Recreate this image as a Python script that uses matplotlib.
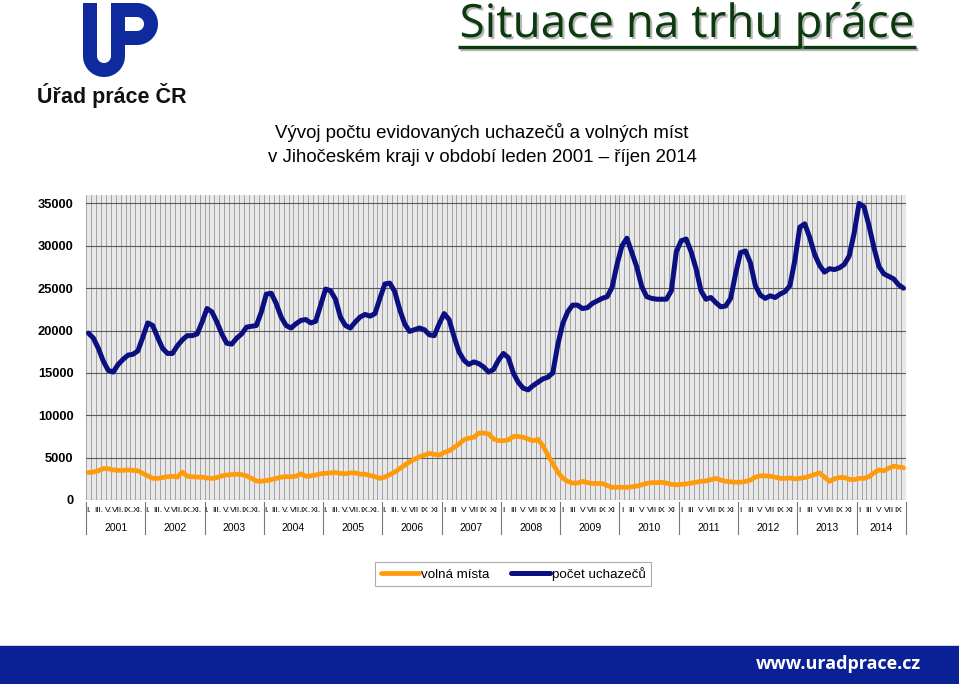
import matplotlib
matplotlib.use('Agg')
import matplotlib.pyplot as plt
import matplotlib.transforms as mtransforms
import matplotlib.patheffects as pe
from matplotlib.patches import Rectangle
from matplotlib.lines import Line2D
import numpy as np

# --- data ---
years = ['2001', '2002', '2003', '2004', '2005', '2006', '2007',
         '2008', '2009', '2010', '2011', '2012', '2013', '2014']

# pocet uchazecu, leden 2001 - rijen 2014
uchazeci = [
    19700, 19100, 17900, 16400, 15300, 15100, 16000, 16600, 17100, 17200, 17600, 19200,
    20900, 20600, 19200, 17900, 17300, 17300, 18200, 18900, 19400, 19400, 19600, 21000,
    22600, 22200, 21000, 19600, 18500, 18400, 19100, 19600, 20400, 20500, 20600, 22200,
    24300, 24400, 23200, 21600, 20600, 20300, 20800, 21200, 21300, 20900, 21100, 23000,
    24900, 24700, 23700, 21600, 20600, 20300, 21000, 21600, 21900, 21700, 22000, 23800,
    25500, 25600, 24600, 22500, 20800, 19900, 20100, 20300, 20100, 19500, 19400, 20800,
    22000, 21300, 19300, 17500, 16500, 16000, 16300, 16100, 15700, 15100, 15400, 16500,
    17300, 16800, 15000, 13900, 13200, 13000, 13500, 13900, 14300, 14500, 15000, 18300,
    20800, 22200, 23000, 23000, 22600, 22700, 23200, 23500, 23800, 24000, 25100, 27800,
    30000, 30900, 29200, 27500, 25200, 24000, 23800, 23700, 23700, 23700, 24700, 29300,
    30600, 30800, 29300, 27300, 24700, 23700, 23900, 23300, 22800, 22900, 23800, 26700,
    29200, 29400, 28000, 25300, 24200, 23800, 24100, 23900, 24300, 24600, 25300, 28300,
    32200, 32600, 31000, 29000, 27700, 26900, 27300, 27200, 27400, 27800, 28800, 31500,
    35000, 34600, 32400, 29800, 27600, 26700, 26400, 26100, 25400, 25000,
]

# volna mista
volna_mista = [
    3250, 3300, 3450, 3700, 3700, 3550, 3500, 3500, 3550, 3500, 3450, 3150,
    2850, 2550, 2550, 2650, 2750, 2800, 2700, 3300, 2800, 2750, 2700, 2700,
    2600, 2550, 2650, 2850, 2950, 3000, 3050, 3000, 2850, 2550, 2250, 2200,
    2300, 2400, 2550, 2700, 2750, 2750, 2800, 3100, 2800, 2850, 2950, 3100,
    3150, 3200, 3250, 3150, 3100, 3200, 3200, 3050, 3050, 2900, 2750, 2550,
    2700, 3000, 3300, 3700, 4100, 4500, 4800, 5100, 5300, 5500, 5400, 5300,
    5600, 5800, 6200, 6600, 7100, 7300, 7400, 7900, 7900, 7800, 7200, 7000,
    7000, 7100, 7500, 7500, 7400, 7200, 7000, 7150, 6400, 5300, 4300, 3300,
    2600, 2200, 2000, 2000, 2200, 2050, 1950, 1950, 1950, 1700, 1500, 1500,
    1500, 1500, 1550, 1650, 1800, 1950, 2050, 2050, 2100, 2000, 1850, 1800,
    1850, 1900, 2000, 2100, 2200, 2250, 2400, 2550, 2350, 2200, 2150, 2100,
    2100, 2200, 2350, 2700, 2850, 2850, 2800, 2700, 2550, 2550, 2600, 2500,
    2550, 2650, 2800, 3000, 3200, 2700, 2200, 2500, 2650, 2650, 2450, 2400,
    2550, 2550, 2750, 3200, 3550, 3450, 3750, 4000, 3900, 3800,
]

# month labels (every second month), older years use dots
mesice_s_teckou = ['I.', '', 'III.', '', 'V.', '', 'VII.', '', 'IX.', '', 'XI.', '']
mesice_2006 = ['I.', '', 'III.', '', 'V.', '', 'VII', '', 'IX', '', 'XI', '']
mesice = ['I', '', 'III', '', 'V', '', 'VII', '', 'IX', '', 'XI', '']

y_ticks = [0, 5000, 10000, 15000, 20000, 25000, 30000, 35000]

W, H = 959, 684
fig = plt.figure(figsize=(W / 100, H / 100), dpi=100)
fig.patch.set_facecolor('white')

# background layer in pixel coordinates (for logo, titles, footer)
bg = fig.add_axes([0, 0, 1, 1], zorder=0)
bg.set_xlim(0, W)
bg.set_ylim(H, 0)
bg.axis('off')

# --- main chart ---
px_l, px_r, px_t, px_b = 86, 906, 195, 500
ax = fig.add_axes([px_l / W, 1 - px_b / H, (px_r - px_l) / W, (px_b - px_t) / H], zorder=2)
ax.set_facecolor('#e8e8e8')

n = len(uchazeci)
x = np.arange(n)
ax.plot(x, volna_mista, color='#ff9a0a', lw=3.4, solid_joinstyle='round',
        solid_capstyle='round', label='volná místa', zorder=4)
ax.plot(x, uchazeci, color='#0b0f80', lw=3.6, solid_joinstyle='round',
        solid_capstyle='round', label='počet uchazečů', zorder=5)

ax.set_xlim(-0.5, n - 0.5)
ax.set_ylim(0, 36000)
ax.set_yticks(y_ticks)
ax.set_yticklabels([str(v) for v in y_ticks], fontsize=9.3, fontweight='bold',
                   family='Liberation Sans')
ax.tick_params(axis='y', length=0, pad=9)
ax.set_xticks(np.arange(-0.5, n, 1.0), minor=True)
ax.set_xticks([])
ax.tick_params(axis='x', which='both', length=0, labelbottom=False)
ax.grid(True, axis='x', which='minor', color='#909090', lw=0.55)
ax.grid(True, axis='y', which='major', color='#5a5a5a', lw=0.8)
ax.set_axisbelow(True)
for s in ax.spines.values():
    s.set_visible(False)

# two-level category axis: months + years
trans = mtransforms.blended_transform_factory(ax.transData, ax.transAxes)
for k, yr in enumerate(years):
    if int(yr) <= 2005:
        labels = mesice_s_teckou
    elif yr == '2006':
        labels = mesice_2006
    else:
        labels = mesice
    for m, lab in enumerate(labels):
        i = k * 12 + m
        if lab and i < n:
            ax.text(i, -0.034, lab, transform=trans, ha='center', va='center',
                    fontsize=6.0, family='Liberation Sans', clip_on=False)
    first = k * 12
    last = min(k * 12 + 11, n - 1)
    ax.text((first + last) / 2, -0.092, yr, transform=trans, ha='center', va='center',
            fontsize=7.5, family='Liberation Sans', clip_on=False)
    ax.add_line(Line2D([first - 0.5, first - 0.5], [-0.008, -0.112], transform=trans,
                       color='#777777', lw=0.8, clip_on=False))
ax.add_line(Line2D([n - 0.5, n - 0.5], [-0.008, -0.112], transform=trans,
                   color='#777777', lw=0.8, clip_on=False))

# legend
leg = fig.legend(loc='center', bbox_to_anchor=(513 / W, 1 - 574 / H), ncol=2,
                 frameon=True, fancybox=False, edgecolor='#999999',
                 handlelength=2.9, handletextpad=0.15, columnspacing=1.6,
                 borderpad=0.4, prop={'family': 'Liberation Sans', 'size': 9.6})
leg.get_frame().set_linewidth(0.8)

# --- titles ---
bg.text(482, 133, 'Vývoj počtu evidovaných uchazečů a volných míst', ha='center', va='center',
        fontsize=13.4, family='Liberation Sans')
bg.text(482, 157, 'v Jihočeském kraji v období leden 2001 – říjen 2014', ha='center', va='center',
        fontsize=13.4, family='Liberation Sans')

green = '#0c3a0e'
shadow = [pe.withSimplePatchShadow(offset=(1.5, -1.5), shadow_rgbFace='#888888', alpha=0.6)]
bg.text(687, 37, 'Situace na trhu práce', ha='center', va='baseline', fontsize=33,
        family='Open Sans', color=green, path_effects=shadow)
bg.plot([458, 916], [47, 47], color=green, lw=2.4, solid_capstyle='butt',
        path_effects=[pe.SimpleLineShadow(offset=(1.2, -1.2), shadow_color='#888888', alpha=0.6),
                      pe.Normal()])

# --- logo ---
logo = '#0f2a9c'
lw_logo = 14 * 0.72
t = np.linspace(np.pi, 0, 40)
ux = np.concatenate([[90], 104 + 14 * np.cos(t), [118]])
uy = np.concatenate([[3], 56 + 14 * np.sin(t), [3]])
bg.plot(ux, uy, color=logo, lw=lw_logo, solid_capstyle='butt', solid_joinstyle='round')
t2 = np.linspace(-np.pi / 2, np.pi / 2, 40)
px_ = np.concatenate([[111], 137 + 14 * np.cos(t2), [118]])
py_ = np.concatenate([[10], 24 + 14 * np.sin(t2), [38]])
bg.plot(px_, py_, color=logo, lw=lw_logo, solid_capstyle='butt', solid_joinstyle='round')
bg.text(112, 96, 'Úřad práce ČR', ha='center', va='center', fontsize=15.5,
        fontweight='bold', family='Liberation Sans', color='#111111')

# --- footer bar ---
bg.add_patch(Rectangle((0, 646), W, H - 646, color='#0a2196', zorder=1))
bg.text(838, 664, 'www.uradprace.cz', ha='center', va='center', fontsize=13,
        fontweight='bold', family='Open Sans', color='white', zorder=2)

fig.savefig('out.png', dpi=100)
